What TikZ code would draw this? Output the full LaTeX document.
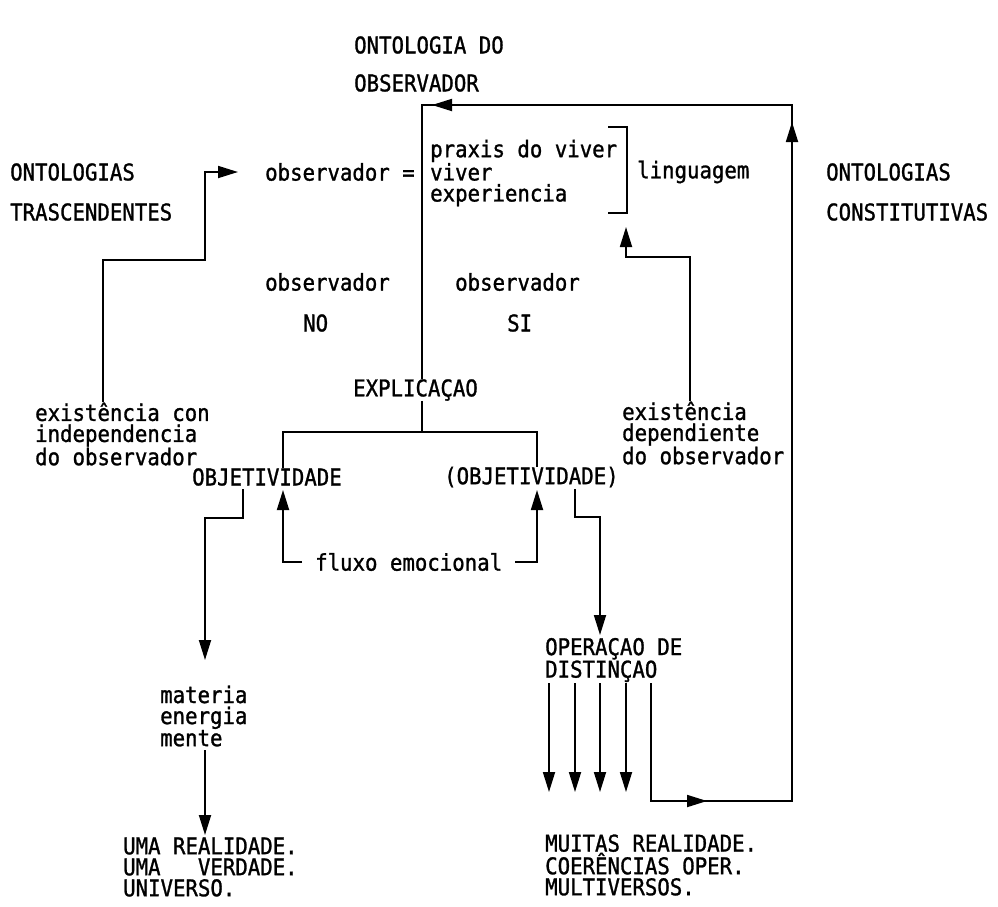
\documentclass[tikz,border=0pt]{standalone}
\usepackage{fontspec}
\newfontfamily\dm{DejaVu Sans Mono}[FakeStretch=0.9,FakeBold=1.2]
\usetikzlibrary{arrows.meta}
\begin{document}
\begin{tikzpicture}[x=1pt,y=-1pt,
  txt/.style={font=\dm\fontsize{23}{21}\selectfont, inner sep=0pt, anchor=west, align=left},
  ln/.style={line width=1.8pt, line join=miter},
  arr/.style={ln, -{Triangle[length=20pt,width=12pt]}}]
\useasboundingbox (0,0) rectangle (998,906);

% ---------- texts ----------
\node[txt] (ont1) at (354,45) {ONTOLOGIA DO};
\node[txt] (ont2) at (354,83) {OBSERVADOR};
\node[txt] (ontT1) at (10,172) {ONTOLOGIAS};
\node[txt] (ontT2) at (10,212) {TRASCENDENTES};
\node[txt] (obsEq) at (265,172) {observador =};
\node[txt] (praxis) at (430,173) {praxis do viver\\viver\\experiencia};
\node[txt] (ling) at (637,172) {linguagem};
\node[txt] (ontC1) at (826,172) {ONTOLOGIAS};
\node[txt] (ontC2) at (826,212) {CONSTITUTIVAS};
\node[txt] (obsL) at (265,282) {observador};
\node[txt] (no) at (303,323) {NO};
\node[txt] (obsR) at (455,282) {observador};
\node[txt] (si) at (507,323) {SI};
\node[txt] (expl) at (353,390) {EXPLICAÇAO};
\node[txt] (exL) at (35,434) {existência con\\independencia\\do observador};
\node[txt] (objL) at (192,477) {OBJETIVIDADE};
\node[txt] (objR) at (444,477) {(OBJETIVIDADE)};
\node[txt] (exR) at (622,433) {existência\\dependiente\\do observador};
\node[txt] (fluxo) at (315,562) {fluxo emocional};
\node[txt] (mat) at (160,716) {materia\\energia\\mente};
\node[txt] (oper) at (545,660) {OPERAÇAO DE\\DISTINÇAO};
\node[txt] (uma) at (123,867) {UMA REALIDADE.\\UMA\ \ \ VERDADE.\\UNIVERSO.};
\node[txt] (muitas) at (545,865) {MUITAS REALIDADE.\\COERÊNCIAS OPER.\\MULTIVERSOS.};

% ---------- coordinates ----------
\coordinate (l1a) at (103,260);
\coordinate (l1b) at (205,260);
\coordinate (l1c) at (205,172);
\coordinate (l1d) at (238,172);

\coordinate (d5) at (651,683);
\coordinate (c1) at (651,801);
\coordinate (c2) at (792,801);
\coordinate (c3) at (792,105);
\coordinate (c4) at (422,105);
\coordinate (m1) at (707,801);
\coordinate (m2) at (792,122);
\coordinate (m3) at (432,105);
\coordinate (c5) at (422,432);
\coordinate (c6) at (283,432);
\coordinate (c7) at (537,432);

\coordinate (b1) at (608,127);
\coordinate (b2) at (627,127);
\coordinate (b3) at (627,213);
\coordinate (b4) at (608,213);

\coordinate (q1) at (690,257);
\coordinate (q2) at (626,257);
\coordinate (q3) at (626,227);

\coordinate (f1) at (302,562);
\coordinate (f2) at (283,562);
\coordinate (f3) at (283,490);
\coordinate (f4) at (515,562);
\coordinate (f5) at (537,562);
\coordinate (f6) at (537,490);

\coordinate (g1) at (243,489);
\coordinate (g2) at (243,518);
\coordinate (g3) at (205,518);
\coordinate (g4) at (205,660);
\coordinate (g5) at (205,750);
\coordinate (g6) at (205,835);

\coordinate (h1) at (575,489);
\coordinate (h2) at (575,517);
\coordinate (h3) at (600,517);
\coordinate (h4) at (600,635);

\coordinate (k1) at (549,683);
\coordinate (k1e) at (549,792);
\coordinate (k2) at (575,683);
\coordinate (k2e) at (575,792);
\coordinate (k3) at (600,683);
\coordinate (k3e) at (600,792);
\coordinate (k4) at (626,683);
\coordinate (k4e) at (626,792);

% ---------- connectors ----------
\draw[arr] (exL.north -| l1a) -- (l1a) -- (l1b) -- (l1c) -- (l1d);

\draw[ln] (d5) -- (c1) -- (c2) -- (c3) -- (c4) -- (expl.north -| c4);
\draw[arr] (c1) -- (m1);
\draw[arr] (c2) -- (m2);
\draw[arr] (c3) -- (m3);

\draw[ln] (expl.south -| c4) -- (c5);
\draw[ln] (objL.north -| c6) -- (c6) -- (c7) -- (objR.north -| c7);

\draw[ln] (b1) -- (b2) -- (b3) -- (b4);

\draw[arr] (exR.north -| q1) -- (q1) -- (q2) -- (q3);

\draw[arr] (f1) -- (f2) -- (f3);
\draw[arr] (f4) -- (f5) -- (f6);

\draw[arr] (g1) -- (g2) -- (g3) -- (g4);
\draw[arr] (g5) -- (g6);

\draw[arr] (h1) -- (h2) -- (h3) -- (h4);

\draw[arr] (k1) -- (k1e);
\draw[arr] (k2) -- (k2e);
\draw[arr] (k3) -- (k3e);
\draw[arr] (k4) -- (k4e);
\end{tikzpicture}
\end{document}
